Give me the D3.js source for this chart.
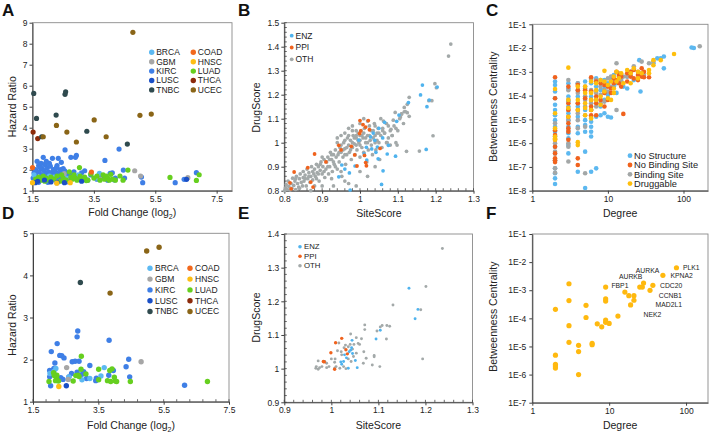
<!DOCTYPE html>
<html><head><meta charset="utf-8">
<script src="https://cdn.jsdelivr.net/npm/d3@7"></script>
<style>body{margin:0;background:#fff}svg text{font-family:"Liberation Sans",Arial,sans-serif}</style>
</head><body><svg id="c" width="711" height="433"></svg>
<script>
// ---------------- DATA ----------------
const cancerTypes = ["BRCA","GBM","KIRC","LUSC","TNBC","COAD","HNSC","LUAD","THCA","UCEC"];
// Panel A: [fold change (log2), hazard ratio]
const aKIRC = [[1.55,1.85],[1.6,2.0],[1.62,1.7],[1.65,2.4],[1.68,1.55],[1.7,2.2],[1.72,1.9],[1.75,1.6],[1.78,2.3],[1.8,1.75],[1.82,2.05],[1.85,2.59],[1.85,1.5],[1.88,1.95],[1.9,2.25],[1.92,1.65],[1.95,1.8],[1.98,2.1],[2.0,1.55],[2.02,1.9],[2.05,1.7],[2.05,2.3],[2.08,2.17],[2.1,1.45],[2.12,1.85],[2.15,2.54],[2.18,2.0],[2.2,1.6],[2.22,1.75],[2.25,1.9],[2.28,2.1],[2.3,1.5],[2.34,2.54],[2.35,1.8],[2.38,1.65],[2.4,2.0],[2.44,2.35],[2.45,1.55],[2.48,1.85],[2.5,1.7],[2.56,2.94],[2.55,1.95],[2.6,1.6],[2.65,1.8],[2.7,1.5],[2.75,2.59],[2.78,1.75],[2.85,1.9],[2.9,2.59],[2.93,2.68],[2.95,1.55],[3.0,1.7],[3.1,1.85],[3.15,1.6],[3.2,1.95],[3.3,1.5],[3.4,1.75],[3.6,1.55],[3.75,1.65],[3.79,1.71],[3.86,2.44],[3.95,1.5],[4.03,1.83],[4.1,1.85],[4.17,1.51],[4.2,1.6],[4.32,2.98],[4.46,1.98],[4.5,1.6],[5.05,1.65],[5.09,1.38],[6.15,1.38],[6.44,1.54],[6.84,1.86],[1.58,1.45],[1.52,1.6],[1.7,1.4],[2.0,1.4],[2.6,1.42],[1.6,1.8],[1.75,2.1],[1.95,2.4],[2.3,2.2],[2.5,2.05]];
const aBRCA = [[1.55,1.75],[1.7,1.6],[1.9,1.55],[2.05,1.7],[2.2,1.65],[2.6,1.6],[3.0,1.75],[3.24,1.55],[3.58,1.6],[3.68,1.83]];
const aGBM  = [[2.53,1.81],[2.6,1.5],[3.7,1.55],[4.83,1.95],[5.02,1.70],[6.56,1.62]];
const aLUAD = [[1.6,1.55],[1.7,1.65],[1.75,1.5],[1.85,1.7],[1.9,1.45],[1.95,1.6],[2.05,1.5],[2.1,1.65],[2.2,1.55],[2.3,1.7],[2.4,1.45],[2.45,1.75],[2.5,1.6],[2.6,1.5],[2.7,1.9],[2.75,1.65],[2.8,1.55],[2.85,1.75],[2.9,1.6],[2.95,1.5],[3.03,2.1],[3.05,1.7],[3.1,1.55],[3.2,1.65],[3.25,1.48],[3.3,1.5],[3.4,1.8],[3.5,1.6],[3.6,1.7],[3.7,1.5],[3.8,1.75],[3.85,1.55],[3.9,1.7],[3.95,1.6],[4.0,1.5],[4.05,1.78],[4.1,1.55],[4.2,1.5],[4.35,1.7],[4.45,1.5],[4.61,1.98],[5.98,1.63],[6.84,1.49],[6.93,1.76]];
const aLUSC = [[1.59,1.38],[1.67,1.45],[1.89,1.51],[2.1,1.42],[2.3,1.38],[2.54,1.38],[3.1,1.45],[6.52,1.54]];
const aHNSC = [[1.5,1.38],[2.29,1.36],[2.73,1.38]];
const aCOAD = [[1.5,2.1],[3.42,1.89]];
const aTHCA = [[1.52,3.79],[1.67,3.48]];
const aTNBC = [[1.54,5.63],[1.63,4.44],[1.8,3.57],[2.27,4.6],[2.56,5.59],[2.58,5.71],[3.27,3.83],[4.59,3.22]];
const aUCEC = [[4.77,8.54],[1.85,3.57],[2.28,4.11],[2.62,3.79],[2.93,3.32],[3.51,4.37],[3.9,3.57],[5.0,4.59],[5.37,4.65]];
// Panel D
const dKIRC = [[2.87,2.68],[2.85,2.54],[2.24,2.38],[2.06,2.19],[3.83,2.46],[2.32,2.1],[2.38,2.09],[2.45,2.04],[2.17,1.92],[2.79,1.96],[2.91,1.96],[3.24,1.86],[2.01,1.74],[2.08,1.74],[2.14,1.79],[2.85,1.70],[3.05,1.71],[2.01,1.59],[2.35,1.57],[2.6,1.59],[3.14,1.55],[3.42,1.5],[3.44,1.56],[3.96,1.74],[4.35,1.83],[4.43,2.01],[4.46,1.59],[6.14,1.39],[2.04,1.38],[3.82,1.63],[2.68,1.67],[2.42,1.53],[2.05,1.65],[2.7,1.95],[3.0,1.65]];
const dBRCA = [[2.2,1.79],[3.68,1.81],[3.24,1.55],[2.6,1.59],[3.58,1.61],[2.02,1.67],[2.14,1.72],[3.0,1.52]];
const dGBM  = [[2.53,1.81],[4.81,1.95],[2.58,1.53]];
const dLUAD = [[2.98,2.08],[2.13,1.69],[2.22,1.55],[2.28,1.49],[2.23,1.63],[1.99,1.48],[2.73,1.49],[2.88,1.63],[2.97,1.77],[2.91,1.6],[3.51,1.77],[3.51,1.52],[3.78,1.5],[3.85,1.74],[3.92,1.78],[3.99,1.58],[4.02,1.49],[4.06,1.48],[3.88,1.48],[4.48,1.48],[6.84,1.48],[3.12,1.66],[2.81,1.62],[2.15,1.62],[2.19,1.5]];
const dLUSC = [[2.52,1.38]];
const dHNSC = [[2.29,1.36]];
const dCOAD = [];
const dTHCA = [];
const dTNBC = [[2.95,3.83]];
const dUCEC = [[4.98,4.58],[5.36,4.67],[3.86,3.58]];

// Panel B: [SiteScore, DrugScore]
const pocketClasses = ["ENZ","PPI","OTH"];
const bENZ = [[1.165,1.240],[1.160,1.199],[1.183,1.178],[1.204,1.232],[1.177,1.150],[1.128,1.167],[1.103,1.115],[1.097,1.089],[1.065,1.085],[1.175,0.972],[1.094,0.944],[1.075,0.989],[1.072,0.953],[1.057,0.826],[1.061,0.883],[1.048,0.933],[1.046,0.982],[1.039,1.010],[1.028,1.024],[1.031,0.974],[1.017,0.981],[1.011,0.954],[0.987,0.903],[0.972,0.874],[0.952,0.907],[0.944,0.858],[0.974,0.803],[1.018,0.928],[0.997,1.011],[1.035,1.04],[1.05,1.06],[1.042,0.96],[0.96,0.89],[1.06,1.02]];
const bPPI = [[1.000,1.092],[1.022,1.092],[1.008,1.075],[1.015,1.065],[1.002,1.049],[0.999,1.038],[1.025,1.054],[0.977,0.985],[0.986,0.949],[1.012,0.947],[1.015,0.917],[1.017,0.904],[0.992,0.903],[1.053,0.976],[0.944,0.989],[0.880,0.953],[0.826,0.878],[0.815,0.833],[0.818,0.808],[0.870,0.836],[0.876,0.815],[0.862,0.896],[0.91,0.92],[0.95,0.97]];
const bOTH = [[1.240,1.411],[1.234,1.361],[1.198,1.246],[1.202,1.229],[1.190,1.175],[1.182,1.175],[1.193,1.029],[1.157,0.965],[1.123,0.964],[1.130,1.189],[1.117,1.147],[1.117,1.129],[1.107,1.107],[1.093,1.126],[1.088,1.094],[1.082,1.056],[1.125,1.125],[1.110,1.12],[1.095,1.06],[1.085,1.03],[1.098,0.99],[1.08,0.99],[1.07,1.0],[1.075,1.07],[1.06,1.05],[1.062,1.09],[1.065,1.04],[1.055,1.1],
[0.801,0.80],[0.803,0.812],[0.805,0.825],[0.808,0.805],[0.81,0.84],[0.812,0.818],[0.815,0.803],[0.818,0.83],[0.82,0.81],[0.822,0.852],[0.825,0.822],
[0.828,0.84],[0.83,0.805],[0.832,0.86],[0.835,0.83],[0.838,0.815],[0.84,0.85],[0.842,0.87],[0.845,0.835],[0.848,0.82],[0.85,0.855],[0.85,0.88],
[0.852,0.84],[0.855,0.865],[0.858,0.82],[0.86,0.89],[0.862,0.85],[0.865,0.875],[0.868,0.835],[0.87,0.86],[0.872,0.9],[0.875,0.845],[0.878,0.87],[0.88,0.82],[0.88,0.89],
[0.882,0.86],[0.885,0.91],[0.887,0.875],[0.89,0.9],[0.892,0.84],[0.895,0.885],[0.897,0.92],[0.9,0.87],[0.902,0.9],[0.905,0.93],[0.907,0.855],[0.91,0.89],
[0.912,0.92],[0.915,0.94],[0.917,0.87],[0.92,0.9],[0.922,0.96],[0.925,0.93],[0.927,0.88],[0.93,0.95],[0.932,0.91],[0.935,0.97],[0.937,0.94],[0.94,0.89],[0.94,1.0],
[0.942,0.95],[0.945,0.92],[0.947,0.98],[0.95,0.96],[0.952,0.86],[0.955,0.94],[0.957,1.0],[0.96,0.975],[0.962,0.91],[0.965,0.95],[0.967,1.02],[0.97,0.99],[0.97,0.83],
[0.972,0.96],[0.975,1.01],[0.977,0.93],[0.98,0.98],[0.982,1.03],[0.985,0.995],[0.987,0.95],[0.99,1.02],[0.992,0.97],[0.995,1.04],[0.997,1.0],[1.0,0.94],[1.0,1.01],
[1.003,1.05],[1.005,0.98],[1.008,1.02],[1.01,0.96],[1.012,1.06],[1.015,1.0],[1.018,0.92],[1.02,1.03],[1.022,0.97],[1.025,1.07],[1.027,1.01],[1.03,0.99],[1.03,1.05],
[1.033,0.95],[1.035,1.02],[1.038,1.08],[1.04,1.0],[1.042,0.97],[1.045,1.04],[1.048,1.06],[1.05,1.0],[1.052,0.93],[1.055,1.03],[1.058,0.98],[1.06,1.06],
[0.93,0.82],[0.96,0.84],[0.99,0.82],[1.0,0.88],[1.02,0.86],[1.04,0.9],[0.925,0.85],[0.95,0.88],[0.9,0.82],[0.87,0.8],
[0.96,1.04],[0.97,1.06],[0.98,1.07],[0.99,1.05],[1.0,1.08],[1.01,1.1],[0.94,1.02],[0.95,1.03],[1.02,1.09],[1.04,1.07],
[1.065,1.04],[1.07,1.08],[1.072,1.0],[1.075,1.02],[1.08,1.05],[1.085,1.03],[1.09,1.07],[1.095,1.0],[1.1,1.05],[1.105,1.1],[1.11,1.12],[1.115,1.08],[1.12,1.13],[1.125,1.16],[1.13,1.11],
[0.83,0.85],[0.84,0.81],[0.855,0.85],[0.865,0.86],[0.875,0.88],[0.885,0.85],[0.89,0.87],[0.895,0.91],[0.9,0.94],[0.905,0.88],[0.915,0.9],[0.92,0.93],[0.925,0.95],[0.93,0.92],[0.935,0.9],[0.945,0.96],[0.95,0.99],[0.955,0.97],[0.96,1.01],[0.965,0.98],[0.975,0.97],[0.98,1.0],[0.985,1.02],[0.99,0.99],[0.995,1.01],[1.0,0.99],[1.005,1.03],[1.01,1.04],[1.015,1.02],[1.02,1.0],[1.025,1.03],[1.035,1.05],[1.04,1.03],[1.045,1.01],[1.05,1.04],[0.97,1.03],[0.98,1.05],[0.99,1.03],[1.0,1.03],[0.96,0.95]];
// Panel E
const eENZ = [[1.165,1.239],[1.184,1.176],[1.178,1.148],[1.095,1.088],[1.104,1.114],[1.020,1.020],[1.044,1.084],[1.041,1.055],[1.038,1.050],[1.026,1.021],[1.036,1.001],[1.051,1.024],[1.055,1.003],[1.028,1.041],[1.032,1.032],[1.043,1.062],[1.045,1.045],[1.022,1.013]];
const ePPI = [[1.009,1.077],[1.022,1.090],[0.999,1.047],[0.983,1.021],[0.985,1.02],[1.031,1.056],[1.034,1.044],[1.007,0.998]];
const eOTH = [[1.236,1.357],[1.201,1.244],[1.131,1.189],[1.194,1.029],[1.190,1.175],[1.071,1.130],[1.071,1.116],[1.108,1.128],[1.118,1.128],[1.124,1.126],[1.104,1.124],[1.097,1.112],[1.117,1.088],[1.103,1.006],[1.087,1.011],[1.091,1.039],[1.091,1.035],[1.069,1.050],[1.074,1.031],[1.068,1.016],[1.053,1.046],[1.053,1.092],[1.041,1.103],[1.064,1.089],[1.057,1.075],[1.048,1.072],[1.040,1.072],[1.036,1.065],[1.047,1.036],[1.042,1.021],[1.026,1.006],[1.018,1.001],[1.010,1.006],[1.007,1.001],[1.000,1.029],[1.008,1.029],[1.007,1.019],[1.016,1.076],[1.021,1.050],[1.027,1.062],[1.013,1.053],[1.031,1.000],[0.986,1.021],[0.990,1.016],[0.995,1.006],[0.980,1.006],[0.972,1.023],[0.968,1.006],[0.972,0.998],[0.975,1.003],[0.967,1.001],[0.990,1.003],[1.022,1.041],[1.036,1.029],[1.045,1.058],[1.03,1.07],[1.06,1.072]];

// Panel C: [degree, betweenness centrality]
const structClasses = ["No Structure","No Binding Site","Binding Site","Druggable"];
const cNoStructure = [[2,3.9e-4],[2,2.8e-4],[2,1.5e-4],[2,7.8e-5],[2,4.1e-5],[2,2.5e-5],[2,1.5e-5],[2,9.3e-6],[2,4.9e-6],[2,3.0e-6],[2,1.9e-6],[2,7.1e-7],[2,3.7e-7],[2,1.9e-7],[2,8.7e-8],[2,5.4e-8],[2,3.3e-8],[2,1.9e-8],
[3,3.3e-4],[3,2.0e-4],[3,9.1e-5],[3,5.6e-5],[3,3.5e-5],[3,1.8e-5],[3,9.3e-6],[3,4.9e-6],[3,2.6e-6],[3,1.6e-6],[3,8.3e-7],[3,3.7e-7],
[4,3.3e-4],[4,1.7e-4],[4,9.1e-5],[4,3.5e-5],[4,1.3e-5],[4,4.9e-6],[4,2.6e-6],[4,6.3e-8],
[5,3.9e-4],[5,2.0e-4],[5,9.1e-5],[5,2.5e-5],[5,9.3e-6],[5,5.8e-6],[5,3.0e-6],[5,4.4e-7],[5,1.3e-8],
[6,5.3e-4],[6,3.3e-4],[6,9.1e-5],[6,2.5e-5],[6,7.9e-6],[6,4.9e-6],[6,3.0e-6],[6,1.9e-6],[6,6.3e-8],
[7,5.3e-4],[7,2.4e-4],[7,6.6e-5],[7,1.3e-5],[7,8.7e-8],[8,4.5e-4],[8,1.7e-4],[8,3.5e-5],[8,1.5e-5],[9,4.5e-4],[9,2.0e-4],[9,6.6e-5],[9,1.8e-5],
[10,3.3e-4],[10,1.07e-4],[10,1.3e-5],[11,4.5e-4],[11,1.2e-5],[12,7.4e-4],[12,2.4e-4],[13,3.3e-4],[13,1.3e-4],[14,6.3e-4],[15,3.9e-4],[16,2.4e-4],[18,6.3e-4],[18,2.0e-4],[20,1.0e-3],[22,4.5e-4],[26,3.1e-3],[27,1.5e-4],[28,8.7e-4],[40,2.3e-3],[45,3.7e-3],[50,3.7e-3],[55,4.4e-3],[55,1.4e-3],[128,1.05e-2],[137,1.0e-2]];
const cNoBindingSite = [[2,5.9e-4],[2,7.8e-5],[2,3.5e-6],[2,2.2e-6],[2,1.4e-6],[2,7.1e-7],[2,3.7e-7],[2,2.3e-7],[2,1.9e-7],[2,1.6e-7],
[3,2.4e-4],[3,4.8e-5],[3,2.5e-5],[3,1.3e-5],[3,6.8e-6],[3,4.2e-6],[3,3.0e-6],[3,1.4e-6],
[4,2.8e-4],[4,1.7e-4],[4,4.8e-5],[4,2.5e-5],[4,2.3e-7],[4,1.2e-7],[5,1.7e-4],[5,7.8e-5],
[6,5.9e-4],[6,1.5e-4],[6,6.6e-5],[6,3.5e-5],[6,2.5e-5],[6,1.5e-5],[7,3.9e-4],[7,9.1e-5],[7,4.8e-5],[7,1.5e-5],[8,3.3e-4],[8,6.6e-5],[9,2.8e-4],[9,1.3e-4],[9,3.5e-5],
[10,2.4e-4],[10,6.6e-5],[11,2.0e-4],[11,1.3e-4],[12,3.3e-4],[12,5.3e-4],[13,1.0e-3],[13,4.5e-4],[14,7.4e-4],[14,3.3e-4],[15,6.3e-4],[15,2.4e-4],[16,1.7e-5],[18,8.7e-4],[18,3.9e-4],[20,1.0e-3],[20,6.3e-4],[22,1.2e-3],[22,5.3e-4],[25,7.4e-4],[25,4.5e-4],[28,1.4e-3],[28,6.3e-4],[30,1.0e-3],[30,5.9e-4],[35,5.9e-4]];
const cBindingSite = [[2,6.8e-6],[2,9.8e-7],[2,4.4e-7],[2,8.7e-8],[2,5.7e-8],
[3,4.5e-4],[3,1.7e-4],[3,6.6e-5],[3,2.5e-5],[3,9.3e-6],[3,3.5e-6],[3,9.8e-7],[3,7.1e-7],[3,1.7e-7],
[4,3.3e-4],[4,1.3e-4],[4,4.8e-5],[4,1.8e-5],[4,9.3e-6],[4,4.2e-6],[5,2.4e-4],[5,9.1e-5],[5,6.6e-5],[5,3.5e-5],[5,1.5e-5],[5,4.9e-6],[5,5.4e-8],
[6,4.5e-4],[6,1.7e-4],[6,4.8e-5],[6,1.3e-5],[7,4.5e-4],[7,1.3e-4],[7,3.5e-5],[8,2.4e-4],[8,1.07e-4],[8,4.8e-5],[9,3.3e-4],[9,1.7e-4],[9,5.6e-5],
[10,5.3e-4],[10,1.5e-4],[11,6.3e-4],[11,2.4e-4],[12,3.9e-4],[13,2.3e-3],[13,2.5e-5],[14,8.7e-4],[15,4.5e-4],[16,6.3e-4],[18,6.3e-4],[20,7.4e-4],[22,1.7e-3],[25,1.0e-3],[28,2.7e-3],[30,7.4e-4],[35,2.3e-3],[40,2.7e-3],[164,1.2e-2]];
const cDruggable = [[2,1.9e-4],[2,1.8e-5],[2,4.2e-6],[2,1.9e-6],[2,1.6e-6],[2,1.4e-6],[3,1.5e-3],[3,6.6e-5],[3,3.0e-5],[3,1.3e-5],
[4,2.4e-4],[4,6.6e-5],[4,2.5e-5],[4,1.1e-6],[4,8.3e-7],[5,2.4e-4],[5,1.3e-4],[5,4.8e-5],[5,3.0e-5],[5,1.5e-5],
[6,3.9e-4],[6,1.3e-4],[6,6.6e-5],[6,2.5e-5],[6,1.1e-5],[7,3.3e-4],[7,1.7e-4],[7,6.6e-5],[8,4.5e-4],[8,9.1e-5],[8,4.1e-5],[9,1.1e-3],[9,3.9e-4],[9,1.5e-4],
[10,2.8e-4],[10,7.8e-5],[11,3.9e-4],[11,6.6e-5],[12,6.3e-4],[12,2.0e-4],[12,1.3e-4],[13,1.0e-3],[13,3.9e-4],[14,5.3e-4],[15,8.7e-4],[16,3.3e-4],[18,1.2e-3],[20,8.7e-4],[20,3.3e-4],[22,1.4e-3],[25,1.0e-3],[25,5.3e-4],[28,8.7e-4],[35,8.7e-4],[35,1.2e-3],[40,1.9e-3],[40,3.1e-3],[50,3.1e-3],[75,5.6e-3]];
// Panel F: druggable nodes
const fDruggable = [[2,2.1e-4],[2,4.9e-6],[2,2.3e-6],[2,2.0e-6],[2,1.7e-6],[3,1.7e-3],[3,4.3e-4],[3,5.5e-5],[3,1.4e-5],[4,1.1e-5],[4,6.6e-6],[4,1.0e-6],[5,2.9e-4],[5,1.07e-4],[6,1.3e-5],[6,1.15e-5],[7,6.4e-5],[8,5.0e-5],[9,8.7e-5],[9,7.2e-5],[9,4.1e-4],[9,4.9e-4],[9,1.3e-3],[10,6.6e-5],[13,1.2e-4],[16,8.6e-4],[18,6.4e-4],[19,3.0e-4],[21,6.4e-4],[21,4.4e-4],[25,1.3e-3],[27,1.3e-3],[28,1.8e-3],[34,9.9e-4],[37,1.5e-3],[50,3.4e-3],[75,6.3e-3]];
// gene labels: [name, degree, centrality] of label anchor
const fGeneLabels = [["PLK1",91,6.3e-3],["KPNA2",62.7,3.4e-3],["AURKA",22.2,5.1e-3],["AURKB",13.4,3.1e-3],["FBP1",10.7,1.5e-3],["CDC20",45.9,1.45e-3],["CCNB1",44.2,6.7e-4],["MAD2L1",40.1,3.2e-4],["NEK2",28,1.4e-4]];

// tick values
const hrTicksA = [1,2,3,4,5,6,7,8,9];
const hrTicksD = [1,2,3,4,5];
const foldTicks = [1.5,3.5,5.5,7.5];
const siteTicks = [0.8,0.9,1.0,1.1,1.2,1.3];
const drugTicksB = [0.8,0.9,1.0,1.1,1.2,1.3,1.4,1.5];
const drugTicksE = [0.9,1.0,1.1,1.2,1.3,1.4];
const degreeTicks = [1,10,100];
const bcTicksC = [1e-8,1e-7,1e-6,1e-5,1e-4,1e-3,1e-2,1e-1];
const bcTicksF = [1e-7,1e-6,1e-5,1e-4,1e-3,1e-2,1e-1];

// ---------------- STYLE ----------------
const cancerColor = {BRCA:"#5cb9f2",GBM:"#a6a6a6",KIRC:"#3f7fe6",LUSC:"#1a4fc6",TNBC:"#2f4a4e",COAD:"#f2681c",HNSC:"#fdbe14",LUAD:"#66cf1f",THCA:"#8c2b0b",UCEC:"#8a6517"};
const pocketColor = {ENZ:"#4fb3ee",PPI:"#f0621d",OTH:"#a3a9a9"};
const structColor = {"No Structure":"#5cb8f0","No Binding Site":"#f0621d","Binding Site":"#a3a7a7","Druggable":"#ffbf0d"};
const svg = d3.select("#c");
const fmtNum = d => d3.format("")(+d.toFixed(2));
const fmtExp = d => "1E" + Math.round(Math.log10(d));

function panel(o){
  const x = (o.xlog ? d3.scaleLog() : d3.scaleLinear()).domain(o.xd).range([o.l, o.r]);
  const y = (o.ylog ? d3.scaleLog() : d3.scaleLinear()).domain(o.yd).range([o.b, o.t]);
  const g = svg.append("g");
  g.append("rect").attr("x",o.l).attr("y",o.t).attr("width",o.r-o.l).attr("height",o.b-o.t)
    .attr("fill","none").attr("stroke","#8a8a8a").attr("stroke-width",0.9);
  if (o.xminor) g.append("g").selectAll("line").data(o.xminor).join("line")
    .attr("x1",d=>x(d)).attr("x2",d=>x(d)).attr("y1",o.b).attr("y2",o.b-2.5).attr("stroke","#444").attr("stroke-width",0.8);
  if (o.yminor) g.append("g").selectAll("line").data(o.yminor).join("line")
    .attr("y1",d=>y(d)).attr("y2",d=>y(d)).attr("x1",o.l).attr("x2",o.l+2.5).attr("stroke","#444").attr("stroke-width",0.8);
  const xa = g.append("g").attr("transform",`translate(0,${o.b})`)
    .call(d3.axisBottom(x).tickValues(o.xt).tickFormat(o.xf).tickSize(3).tickSizeOuter(0).tickPadding(2));
  const ya = g.append("g").attr("transform",`translate(${o.l},0)`)
    .call(d3.axisLeft(y).tickValues(o.yt).tickFormat(o.yf).tickSize(3).tickSizeOuter(0).tickPadding(o.ypad||2));
  [xa,ya].forEach(a=>{
    a.select(".domain").attr("stroke","#404040");
    a.selectAll(".tick line").attr("stroke","#404040");
    a.selectAll("text").attr("font-size",8.5).attr("fill","#222").style("font-family",'"Liberation Sans",Arial,sans-serif');
  });
  const xt = g.append("text").attr("x",(o.l+o.r)/2).attr("y",o.xtY).attr("text-anchor","middle").attr("font-size",10.5).attr("fill","#222");
  xt.text(o.xtitle);
  if (o.xsub) { xt.append("tspan").attr("font-size",7).attr("dy",2.5).text(o.xsub); xt.append("tspan").attr("dy",-2.5).text(")"); }
  g.append("text").attr("transform",`translate(${o.ytX},${o.ytY}) rotate(-90)`).attr("text-anchor","middle")
    .attr("dy","0.35em").attr("font-size",10.5).attr("fill","#222").text(o.ytitle);
  g.append("text").attr("x",o.letX).attr("y",o.letY).attr("font-size",17).attr("font-weight","bold").attr("fill","#111").text(o.letter);
  return {g,x,y};
}
function dots(p, data, color, r){
  p.g.append("g").selectAll("circle").data(data).join("circle")
    .attr("cx",d=>p.x(d[0])).attr("cy",d=>p.y(d[1])).attr("r",r).attr("fill",color);
}
function legend(p, items, colors, pos){
  items.forEach((name,i)=>{
    const col = Math.floor(i/pos.perCol), row = i%pos.perCol;
    const cx = pos.x + col*pos.colW, cy = pos.y + row*pos.rowH;
    p.g.append("circle").attr("cx",cx).attr("cy",cy).attr("r",pos.r).attr("fill",colors[name]);
    p.g.append("text").attr("x",cx+pos.gap).attr("y",cy).attr("dy","0.35em").attr("font-size",pos.fs).attr("fill","#222").text(name);
  });
}
const range = (a,b,s) => d3.range(Math.round((b-a)/s)+1).map(i=>+(a+i*s).toFixed(3));

// ---------- Panel A ----------
const pA = panel({l:32.5,r:232,t:22.7,b:190.7,xd:[1.5,8],yd:[1,9],xt:foldTicks,yt:hrTicksA,xf:d=>d,yf:d=>d,
  xtitle:"Fold Change (log",xsub:"2",xtY:216,ytitle:"Hazard Ratio",ytX:12.5,ytY:106.7,letter:"A",letX:2,letY:15.5});
const aSeries = {KIRC:aKIRC,BRCA:aBRCA,GBM:aGBM,LUAD:aLUAD,LUSC:aLUSC,HNSC:aHNSC,COAD:aCOAD,THCA:aTHCA,TNBC:aTNBC,UCEC:aUCEC};
Object.keys(aSeries).forEach(k=>dots(pA,aSeries[k],cancerColor[k],2.6));
legend(pA,cancerTypes,cancerColor,{x:151.7,y:52.3,rowH:9.4,colW:41.6,perCol:5,r:2.7,gap:4.5,fs:8.5});

// ---------- Panel D ----------
const pD = panel({l:33,r:229,t:233.3,b:401.7,xd:[1.5,7.5],yd:[1,5],xt:foldTicks,yt:hrTicksD,xf:d=>d,yf:d=>d,
  xminor:range(1.5,7.5,0.4),
  xtitle:"Fold Change (log",xsub:"2",xtY:429,ytitle:"Hazard Ratio",ytX:12.5,ytY:325,letter:"D",letX:2,letY:219});
const dSeries = {KIRC:dKIRC,BRCA:dBRCA,GBM:dGBM,LUAD:dLUAD,LUSC:dLUSC,HNSC:dHNSC,COAD:dCOAD,THCA:dTHCA,TNBC:dTNBC,UCEC:dUCEC};
Object.keys(dSeries).forEach(k=>dots(pD,dSeries[k],cancerColor[k],2.7));
legend(pD,cancerTypes,cancerColor,{x:150,y:268.3,rowH:10.8,colW:40,perCol:5,r:2.7,gap:5,fs:8.5});

// ---------- Panel B ----------
const pB = panel({l:284.3,r:473.5,t:22.7,b:190.7,xd:[0.8,1.3],yd:[0.8,1.5],xt:siteTicks,yt:drugTicksB,xf:fmtNum,yf:fmtNum,
  xminor:range(0.8,1.3,0.02),yminor:range(0.8,1.5,0.02),
  xtitle:"SiteScore",xtY:217,ytitle:"DrugScore",ytX:256.7,ytY:107.5,letter:"B",letX:238,letY:15.5});
dots(pB,bOTH,pocketColor.OTH,1.85);
dots(pB,bENZ,pocketColor.ENZ,1.85);
dots(pB,bPPI,pocketColor.PPI,1.9);
legend(pB,pocketClasses,pocketColor,{x:291.7,y:35.7,rowH:11.8,colW:0,perCol:3,r:1.9,gap:3.8,fs:8.5});

// ---------- Panel E ----------
const pE = panel({l:284.3,r:472.5,t:234,b:402.3,xd:[0.9,1.3],yd:[0.9,1.4],xt:siteTicks.slice(1),yt:drugTicksE,xf:fmtNum,yf:fmtNum,
  xminor:range(0.9,1.3,0.02),yminor:range(0.9,1.4,0.02),
  xtitle:"SiteScore",xtY:429,ytitle:"DrugScore",ytX:256.7,ytY:317.5,letter:"E",letX:238,letY:219});
dots(pE,eOTH,pocketColor.OTH,1.45);
dots(pE,eENZ,pocketColor.ENZ,1.45);
dots(pE,ePPI,pocketColor.PPI,1.7);
legend(pE,pocketClasses,pocketColor,{x:300,y:246.7,rowH:9.5,colW:0,perCol:3,r:1.8,gap:4,fs:7.8});

// ---------- Panel C ----------
const pC = panel({l:532.3,r:708,t:24.3,b:190.7,xlog:true,ylog:true,xd:[1,211],yd:[1e-8,1e-1],xt:degreeTicks,yt:bcTicksC,xf:d=>d,yf:fmtExp,ypad:3,
  xtitle:"Degree",xtY:217,ytitle:"Betweenness Centrality",ytX:493.5,ytY:106.7,letter:"C",letX:486,letY:15.5});
dots(pC,cNoStructure,structColor["No Structure"],2.3);
dots(pC,cBindingSite,structColor["Binding Site"],2.3);
dots(pC,cNoBindingSite,structColor["No Binding Site"],2.3);
dots(pC,cDruggable,structColor["Druggable"],2.3);
legend(pC,structClasses,structColor,{x:630,y:155.7,rowH:9.3,colW:0,perCol:4,r:2.4,gap:4,fs:9.3});

// ---------- Panel F ----------
const pF = panel({l:532.3,r:708,t:234,b:402.7,xlog:true,ylog:true,xd:[1,193],yd:[1e-7,1e-1],xt:degreeTicks,yt:bcTicksF,xf:d=>d,yf:fmtExp,ypad:3,
  xtitle:"Degree",xtY:429,ytitle:"Betweenness Centrality",ytX:493.5,ytY:316.7,letter:"F",letX:486,letY:219});
dots(pF,fDruggable,"#ffb90f",2.6);
pF.g.append("g").selectAll("text").data(fGeneLabels).join("text")
  .attr("x",d=>pF.x(d[1])).attr("y",d=>pF.y(d[2])).attr("dy","0.35em").attr("font-size",6.8).attr("fill","#222").text(d=>d[0]);
</script></body></html>
